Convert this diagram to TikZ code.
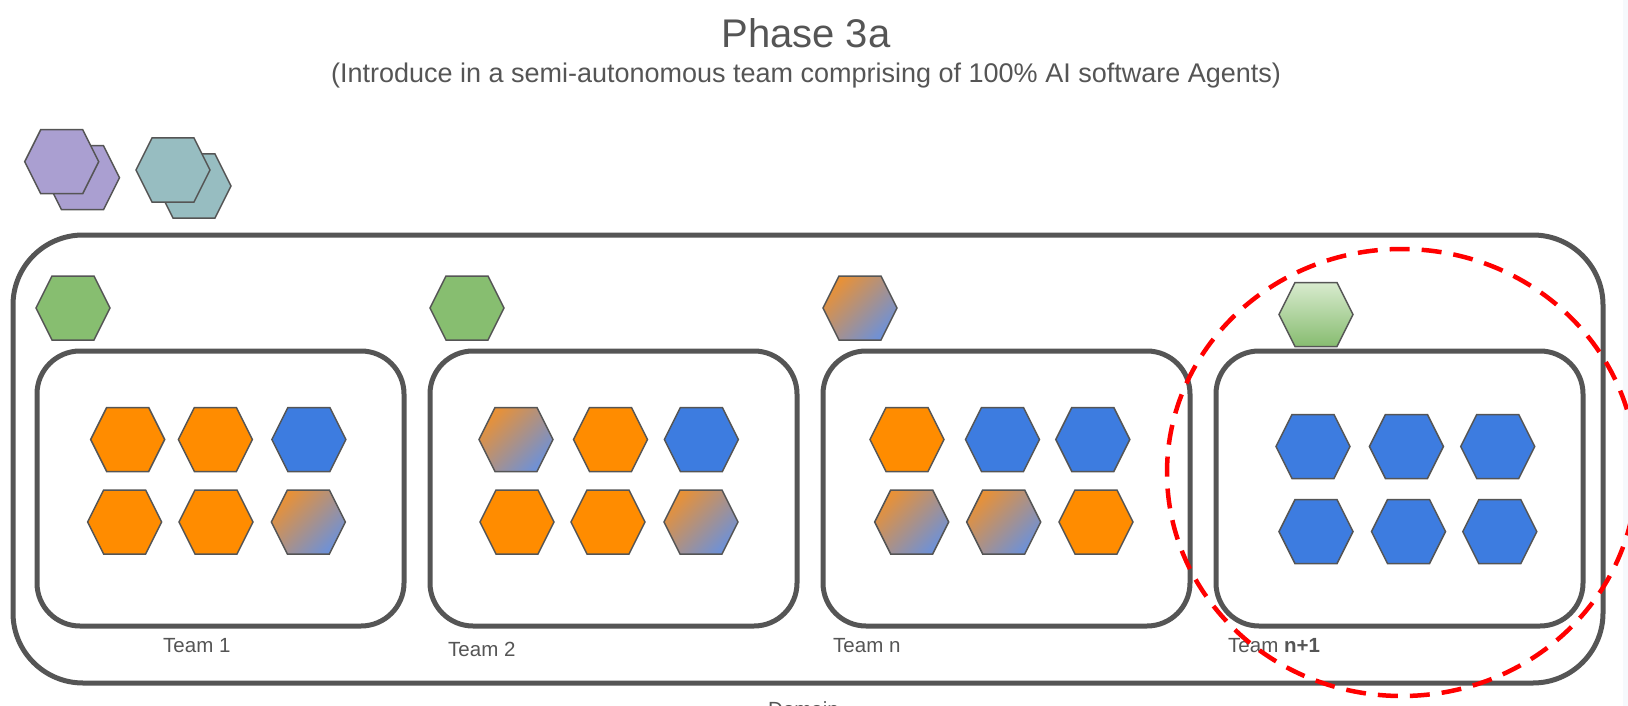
\documentclass[tikz,border=0pt]{standalone}
\usepackage{fontspec}
\setmainfont{Liberation Sans}
\definecolor{hor}{RGB}{255,140,0}
\definecolor{hbl}{RGB}{61,124,224}
\definecolor{hgr}{RGB}{135,190,112}
\definecolor{hpu}{RGB}{170,159,209}
\definecolor{hte}{RGB}{151,189,193}
\definecolor{lin}{RGB}{85,85,85}
\definecolor{txt}{RGB}{85,85,85}
\definecolor{gor}{RGB}{232,145,55}
\definecolor{gbl}{RGB}{110,145,215}
\definecolor{glt}{RGB}{216,235,206}
\definecolor{gdk}{RGB}{135,188,112}
\definecolor{edgecol}{RGB}{246,249,252}
\definecolor{redd}{RGB}{255,0,0}
\tikzset{
  hexa/.pic={\path[draw=lin, line width=1.5pt, line join=miter, pic actions]
    (-37,0) -- (-21,-32) -- (21,-32) -- (37,0) -- (21,32) -- (-21,32) -- cycle;},
  gradhex/.style={top color=gor, bottom color=gbl, shading angle=45},
  greenhex/.style={top color=glt, bottom color=gdk, shading angle=0},
  domainbox/.style={draw=lin, line width=5pt, rounded corners=70pt, minimum width=1590pt, minimum height=448pt},
  teambox/.style={draw=lin, line width=5pt, rounded corners=43pt, minimum width=367pt, minimum height=275pt},
  lbl/.style={anchor=base west, font=\fontsize{20.5}{24}\selectfont},
  reddash/.style={draw=redd, line width=4.5pt, dash pattern=on 20pt off 12pt}
}
\begin{document}
\begin{tikzpicture}[x=1pt,y=-1pt, every node/.style={text=txt, inner sep=0pt}]
\useasboundingbox (0,0) rectangle (1628,706);
\clip (0,0) rectangle (1628,706);
\fill[white] (0,0) rectangle (1628,706);
\fill[edgecol] (1623,0) rectangle (1628,706);

% titles
\node[anchor=base, font=\fontsize{40}{48}\selectfont] (title) at (806,48) {Phase 3a};
\node[anchor=base, font=\fontsize{27}{32}\selectfont] (sub) at (806,83) {(Introduce in a semi-autonomous team comprising of 100\% AI software Agents)};

% top-left stacked hexagons
\pic[fill=hpu] at (82.5,177.7) {hexa};
\pic[fill=hpu] at (61.7,161.7) {hexa};
\pic[fill=hte] at (194,186) {hexa};
\pic[fill=hte] at (173,170) {hexa};

% domain and team boxes
\node[domainbox] (domain) at (808,459) {};
\node[teambox] (team1) at (220.5,488.5) {};
\node[teambox] (team2) at (613.5,488.5) {};
\node[teambox] (teamn) at (1006.5,488.5) {};
\node[teambox] (teamn1) at (1399.5,488.5) {};

% team leaders
\pic[fill=hgr] at (73,308) {hexa};
\pic[fill=hgr] at (467,308) {hexa};
\pic[gradhex] at (860,308) {hexa};
\pic[greenhex] at (1316,314.5) {hexa};

% team 1
\pic[fill=hor] at (127.7,439.5) {hexa};
\pic[fill=hor] at (215.4,439.5) {hexa};
\pic[fill=hbl] at (308.9,439.5) {hexa};
\pic[fill=hor] at (124.6,522) {hexa};
\pic[fill=hor] at (216,522) {hexa};
\pic[gradhex] at (308.4,522) {hexa};

% team 2
\pic[gradhex] at (516,439.5) {hexa};
\pic[fill=hor] at (610.5,439.5) {hexa};
\pic[fill=hbl] at (701.4,439.5) {hexa};
\pic[fill=hor] at (517,522) {hexa};
\pic[fill=hor] at (608,522) {hexa};
\pic[gradhex] at (701,522) {hexa};

% team n
\pic[fill=hor] at (907,439.5) {hexa};
\pic[fill=hbl] at (1002.5,439.5) {hexa};
\pic[fill=hbl] at (1092.8,439.5) {hexa};
\pic[gradhex] at (911.7,522) {hexa};
\pic[gradhex] at (1003.7,522) {hexa};
\pic[fill=hor] at (1096,522) {hexa};

% team n+1
\pic[fill=hbl] at (1313,446.5) {hexa};
\pic[fill=hbl] at (1406.4,446.5) {hexa};
\pic[fill=hbl] at (1497.7,446.5) {hexa};
\pic[fill=hbl] at (1316,531.6) {hexa};
\pic[fill=hbl] at (1408.5,531.6) {hexa};
\pic[fill=hbl] at (1499.8,531.6) {hexa};

% labels
\node[lbl] (l1) at (163,652.7) {Team 1};
\node[lbl] (l2) at (448,656.7) {Team 2};
\node[lbl] (ln) at (833,652.7) {Team n};
\node[lbl] (ln1) at (1228,652.7) {Team \textbf{n+1}};
\node[lbl] (ldom) at (768,716.7) {Domain};

% red dashed ellipse
\draw[reddash] (1401.7,472.5) ellipse [x radius=234.7pt, y radius=223.5pt];
\end{tikzpicture}
\end{document}
